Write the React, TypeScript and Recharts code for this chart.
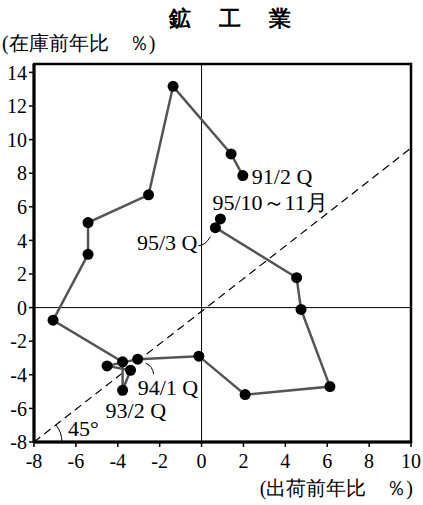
import {
  ScatterChart,
  Scatter,
  XAxis,
  YAxis,
  ReferenceLine,
  ReferenceArea,
  ReferenceDot,
} from "recharts";

// 出荷前年比 (x) / 在庫前年比 (y), 91/2Q → 95/10～11月
const quarters = [
  "91/2Q", "91/3Q", "91/4Q", "92/1Q", "92/2Q", "92/3Q", "92/4Q",
  "93/1Q", "93/2Q", "93/3Q", "93/4Q", "94/1Q", "94/2Q", "94/3Q",
  "94/4Q", "95/1Q", "95/2Q", "95/3Q", "95/10～11月",
];
const shipment = [
  1.97, 1.41, -1.36, -2.53, -5.42, -5.42, -7.09,
  -3.77, -3.77, -3.39, -4.51, -3.05, -0.13, 2.08,
  6.13, 4.75, 4.54, 0.66, 0.9,
];
const inventory = [
  7.86, 9.15, 13.17, 6.71, 5.06, 3.17, -0.75,
  -3.23, -4.92, -3.73, -3.47, -3.07, -2.89, -5.18,
  -4.7, -0.11, 1.78, 4.76, 5.28,
];

const xTicks = [-8, -6, -4, -2, 0, 2, 4, 6, 8, 10];
const yTicks = [-8, -6, -4, -2, 0, 2, 4, 6, 8, 10, 12, 14];

// 45° line (drawn from the lower-left corner)
const diagonalX = [-8, 10];
const diagonalY = [-8, 9.5];

const data = quarters.map((q, i) => ({ q, x: shipment[i], y: inventory[i] }));

const FONT = "Times New Roman";

type Note = {
  text: string;
  at: string;
  dx: number;
  dy: number;
  anchor?: "start" | "end";
  leader?: string;
};

const notes: Note[] = [
  { text: "91/2 Q", at: "91/2Q", dx: 9, dy: 8 },
  { text: "95/10～11月", at: "95/10～11月", dx: -8, dy: -9 },
  { text: "95/3 Q", at: "95/3Q", dx: -18, dy: 22, anchor: "end", leader: "M -17 18 Q -10 18 -5 9" },
  { text: "94/1 Q", at: "94/1Q", dx: 0, dy: 36, leader: "M 8 4 Q 15 7 16 15" },
  { text: "93/2 Q", at: "93/2Q", dx: -17, dy: 28 },
];

const Dot = (props: any) => <circle cx={props.cx} cy={props.cy} r={5.5} fill="#000" />;

const Tick = (props: any) => {
  const { x, y, payload, textAnchor, verticalAnchor } = props;
  const dy = verticalAnchor === "start" ? "0.71em" : "0.355em";
  return (
    <text x={x} y={y} dy={dy} textAnchor={textAnchor} fontSize={20} fontFamily={FONT} fill="#000">
      {payload.value}
    </text>
  );
};

const noteContent = (n: Note) => (props: any) => {
  const { x, y } = props.viewBox;
  return (
    <g>
      {n.leader && (
        <path d={n.leader} transform={`translate(${x},${y})`} fill="none" stroke="#000" strokeWidth={1} />
      )}
      <text x={x + n.dx} y={y + n.dy} textAnchor={n.anchor ?? "start"} fontSize={22} fontFamily={FONT} fill="#000">
        {n.text}
      </text>
    </g>
  );
};

const angleContent = (props: any) => {
  const { x, y } = props.viewBox;
  return (
    <g>
      <path d={`M ${x + 28} ${y} A 28 28 0 0 0 ${x + 22} ${y - 17}`} fill="none" stroke="#000" strokeWidth={1} />
      <text x={x + 34} y={y - 6} fontSize={22} fontFamily={FONT} fill="#000">
        45°
      </text>
    </g>
  );
};

export default function App() {
  return (
    <div style={{ position: "absolute", left: 0, top: 0, width: 423, height: 505, background: "#fff", fontFamily: FONT }}>
      <div style={{ position: "absolute", left: 0, width: 423, top: 4, textAlign: "center", fontSize: 22, fontWeight: "bold", letterSpacing: 3, paddingLeft: 20 }}>
        鉱　工　業
      </div>
      <div style={{ position: "absolute", left: 2, top: 30, fontSize: 20, whiteSpace: "nowrap" }}>
        (在庫前年比　％)
      </div>
      <div style={{ position: "absolute", right: 10, top: 475, fontSize: 20, whiteSpace: "nowrap" }}>
        (出荷前年比　％)
      </div>
      <ScatterChart width={423} height={505} margin={{ top: 64, right: 12, bottom: 33, left: 0 }}>
        <XAxis
          type="number"
          dataKey="x"
          domain={[-8, 10]}
          ticks={xTicks}
          interval={0}
          height={30}
          tickSize={5}
          tickMargin={7}
          axisLine={{ stroke: "#000", strokeWidth: 3 }}
          tickLine={{ stroke: "#000", strokeWidth: 1.5 }}
          tick={<Tick />}
        />
        <YAxis
          type="number"
          dataKey="y"
          domain={[-8, 14.5]}
          ticks={yTicks}
          interval={0}
          width={34}
          tickSize={5}
          tickMargin={2}
          axisLine={{ stroke: "#000", strokeWidth: 3 }}
          tickLine={{ stroke: "#000", strokeWidth: 1.5 }}
          tick={<Tick />}
        />
        <ReferenceArea x1={-8} x2={10} y1={-8} y2={14.5} fill="none" stroke="#000" strokeWidth={2.5} />
        <ReferenceLine x={0} stroke="#000" strokeWidth={1} />
        <ReferenceLine y={0} stroke="#000" strokeWidth={1} />
        <ReferenceLine
          segment={[
            { x: diagonalX[0], y: diagonalY[0] },
            { x: diagonalX[1], y: diagonalY[1] },
          ]}
          stroke="#000"
          strokeWidth={1.2}
          strokeDasharray="8 5"
        />
        <Scatter
          data={data}
          line={{ stroke: "#555", strokeWidth: 2.5 }}
          shape={Dot}
          isAnimationActive={false}
        />
        {notes.map((n) => {
          const i = quarters.indexOf(n.at);
          return (
            <ReferenceDot
              key={n.at}
              x={shipment[i]}
              y={inventory[i]}
              r={0}
              fill="none"
              stroke="none"
              label={{ content: noteContent(n) }}
            />
          );
        })}
        <ReferenceDot x={diagonalX[0]} y={diagonalY[0]} r={0} fill="none" stroke="none" ifOverflow="visible" label={{ content: angleContent }} />
      </ScatterChart>
    </div>
  );
}
